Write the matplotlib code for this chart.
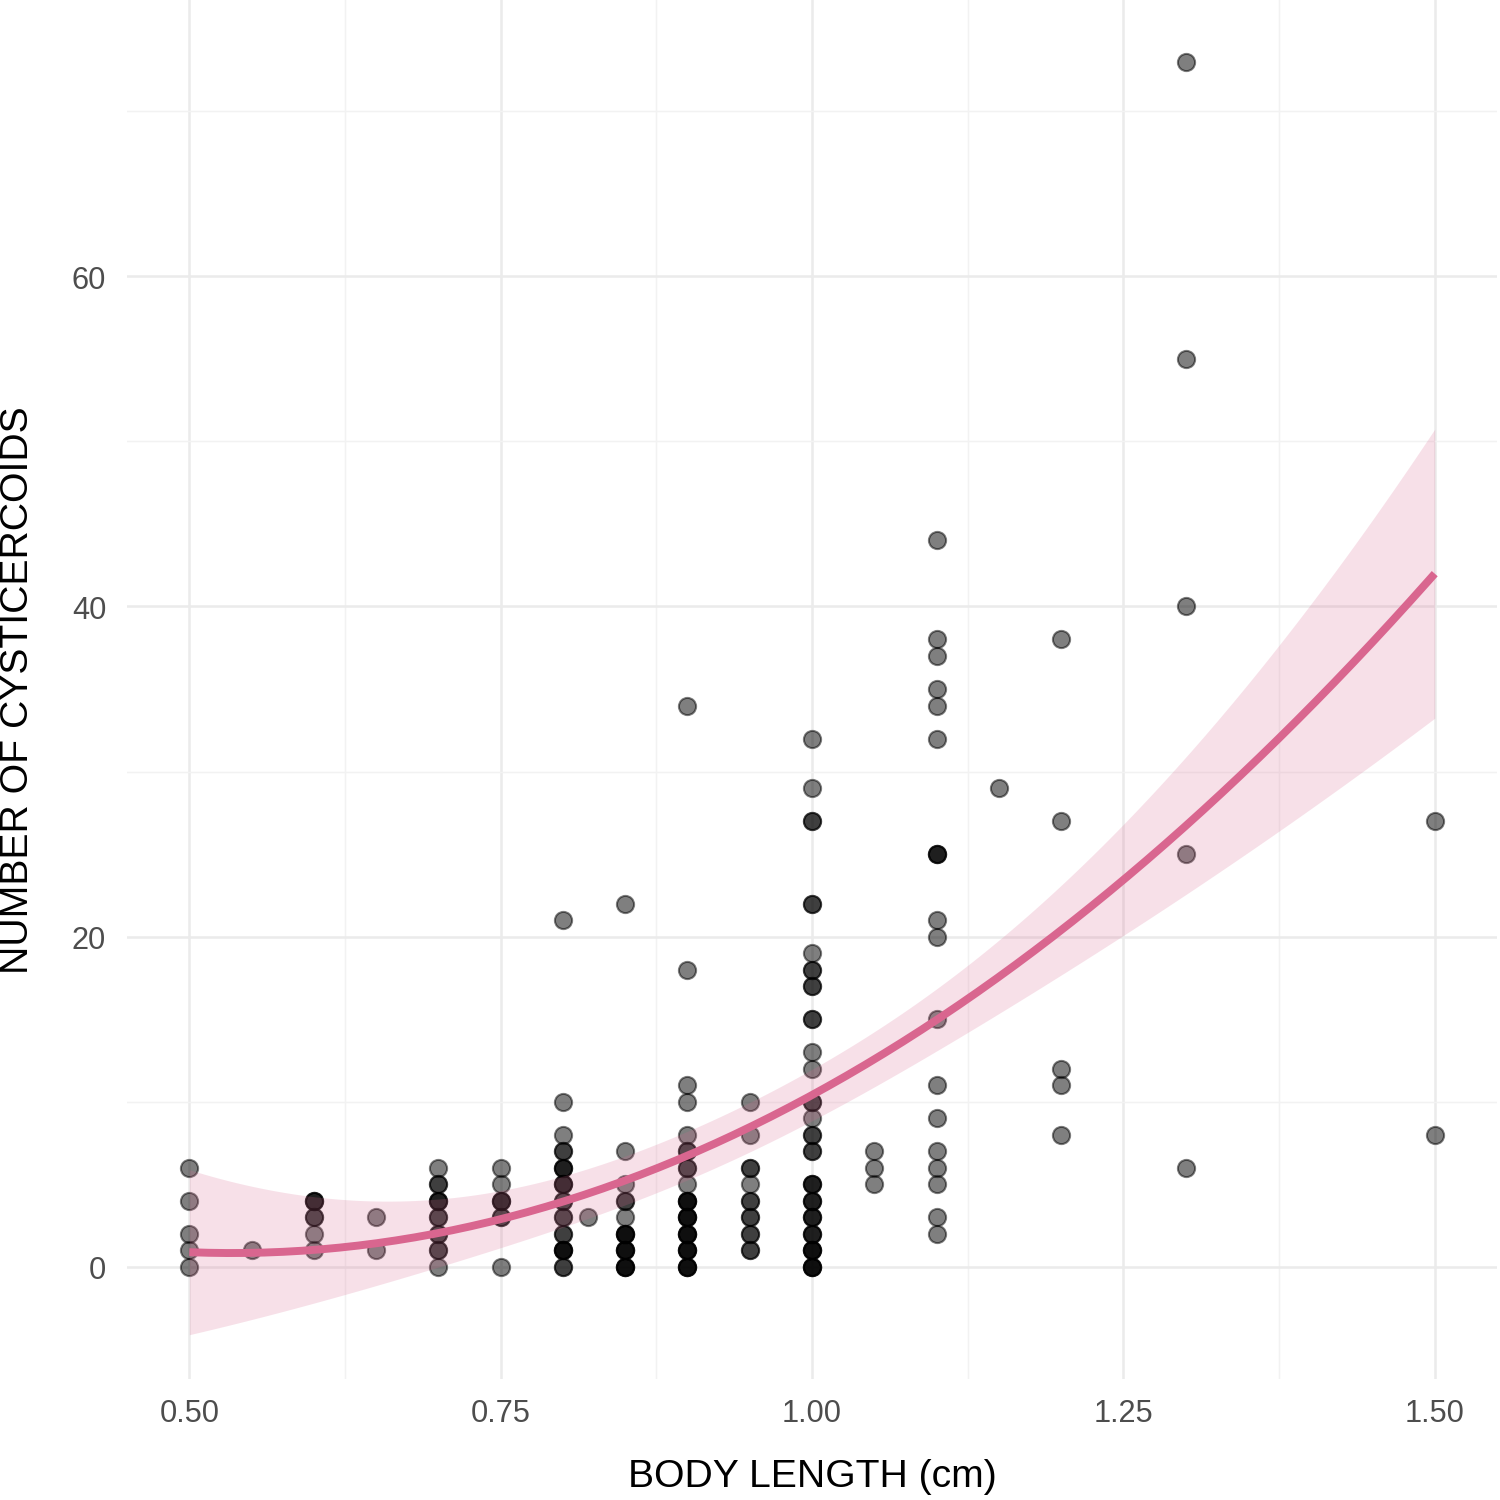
import numpy as np
import matplotlib
matplotlib.use("Agg")
import matplotlib.pyplot as plt

# body length (cm) levels and the cysticercoid counts seen at each level
length_levels = [0.50, 0.55, 0.60, 0.65, 0.70, 0.75, 0.80, 0.82, 0.85,
                 0.90, 0.95, 1.00, 1.05, 1.10, 1.15, 1.20, 1.30, 1.50]
counts_050 = [0, 1, 2, 4, 6]
counts_055 = [1]
counts_060 = [1, 2, 3, 3, 4, 4, 4]
counts_065 = [1, 3]
counts_070 = [0, 1, 1, 2, 2, 3, 3, 4, 4, 4, 5, 5, 6]
counts_075 = [0, 3, 3, 4, 4, 4, 5, 6]
counts_080 = [0, 0, 1, 1, 1, 1, 2, 2, 3, 3, 4, 4, 5, 5, 5, 6, 6, 6, 7, 7, 8, 10, 21]
counts_082 = [3]
counts_085 = [0, 0, 0, 0, 1, 1, 1, 1, 2, 2, 2, 2, 3, 4, 4, 5, 7, 22]
counts_090 = [0, 0, 0, 0, 1, 1, 1, 1, 2, 2, 2, 2, 3, 3, 3, 3, 4, 4, 4, 4,
              5, 6, 6, 7, 7, 8, 10, 11, 18, 34]
counts_095 = [1, 1, 2, 2, 3, 3, 4, 4, 5, 6, 6, 8, 10]
counts_100 = [0, 0, 0, 0, 1, 1, 1, 1, 2, 2, 2, 3, 3, 3, 4, 4, 4, 5, 5, 5,
              7, 7, 8, 8, 9, 10, 10, 12, 13, 15, 15, 17, 17, 18, 18, 19,
              22, 22, 27, 27, 29, 32]
counts_105 = [5, 6, 7]
counts_110 = [2, 3, 5, 6, 7, 9, 11, 15, 20, 21, 25, 25, 25, 32, 34, 35, 37, 38, 44]
counts_115 = [29]
counts_120 = [8, 11, 12, 27, 38]
counts_130 = [6, 25, 40, 55, 73]
counts_150 = [8, 27]

groups = [counts_050, counts_055, counts_060, counts_065, counts_070, counts_075,
          counts_080, counts_082, counts_085, counts_090, counts_095, counts_100,
          counts_105, counts_110, counts_115, counts_120, counts_130, counts_150]

x = np.concatenate([[lv] * len(g) for lv, g in zip(length_levels, groups)])
y = np.concatenate(groups).astype(float)

# quadratic least squares fit with 95% confidence band (like geom_smooth lm, y ~ poly(x, 2))
X = np.column_stack([np.ones_like(x), x, x ** 2])
beta, *_ = np.linalg.lstsq(X, y, rcond=None)
resid = y - X @ beta
df = len(y) - 3
s2 = resid @ resid / df
cov = np.linalg.inv(X.T @ X) * s2
xs = np.linspace(x.min(), x.max(), 200)
X0 = np.column_stack([np.ones_like(xs), xs, xs ** 2])
fit = X0 @ beta
se = np.sqrt(np.einsum("ij,jk,ik->i", X0, cov, X0))
tq = 1.974
lo, hi = fit - tq * se, fit + tq * se

plt.rcParams["font.family"] = ["Liberation Sans", "DejaVu Sans"]

fig = plt.figure(figsize=(5, 5.0033), dpi=300)
ax = fig.add_axes([0.0847, 0.0806, 0.9133, 0.9194])

pink = "#D9668F"
ax.scatter(x, y, s=17, facecolor="black", edgecolor="black", linewidth=0.5,
           alpha=0.5, zorder=3)
ax.fill_between(xs, lo, hi, color=pink, alpha=0.2, linewidth=0, zorder=4)
ax.plot(xs, fit, color=pink, lw=1.9, zorder=5, solid_capstyle="butt")

ax.set_xlim(0.45, 1.55)
ax.set_ylim(-6.8, 76.8)
ax.set_xticks([0.50, 0.75, 1.00, 1.25, 1.50])
ax.set_xticklabels(["0.50", "0.75", "1.00", "1.25", "1.50"])
ax.set_yticks([0, 20, 40, 60])
ax.set_xticks([0.625, 0.875, 1.125, 1.375], minor=True)
ax.set_yticks([10, 30, 50, 70], minor=True)

ax.grid(which="major", color="#EBEBEB", lw=0.6)
ax.grid(which="minor", color="#F2F2F2", lw=0.35)
ax.set_axisbelow(True)
for sp in ax.spines.values():
    sp.set_visible(False)
ax.tick_params(which="both", length=0)
ax.tick_params(axis="both", labelsize=7.4, colors="#4D4D4D")
ax.tick_params(axis="x", pad=4.5)
ax.tick_params(axis="y", pad=5)

ax.set_xlabel("BODY LENGTH (cm)", fontsize=9.4, color="black", va="center")
ax.set_ylabel("NUMBER OF CYSTICERCOIDS", fontsize=9.4, color="black", va="center")
ax.xaxis.set_label_coords(0.5, -0.0703)
ax.yaxis.set_label_coords(-0.0796, 0.5)

fig.savefig("out.png", dpi=300, facecolor="white")
